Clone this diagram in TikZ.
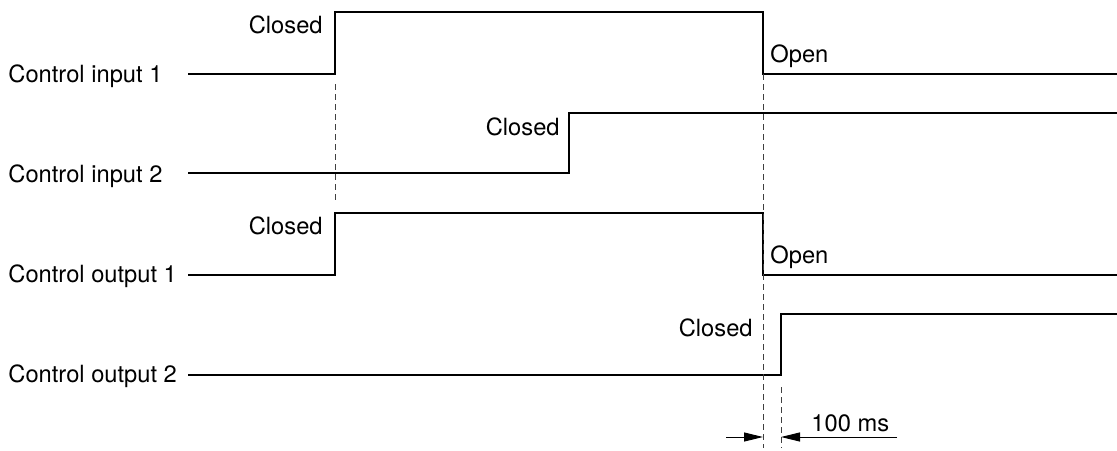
\documentclass[tikz,border=0pt]{standalone}
\usepackage{fontspec}
\setmainfont{TeX Gyre Heros}
\usetikzlibrary{arrows.meta}
\begin{document}
\begin{tikzpicture}[x=0.5pt,y=-0.5pt]
\tikzset{wave/.style={line width=1.2pt,line join=miter},
  guide/.style={gray!50!black,line width=0.5pt,dash pattern=on 3pt off 2pt},
  txt/.style={font=\fontsize{11.85}{14}\selectfont,inner sep=0pt},
  dimtip/.style={-{Triangle[length=9.5pt,width=4.5pt]},line width=0.5pt}}
\pgfmathsetmacro{\xs}{188}
\pgfmathsetmacro{\xe}{1117}
\pgfmathsetmacro{\ton}{335}
\pgfmathsetmacro{\toff}{763}
\pgfmathsetmacro{\tin}{569}
\pgfmathsetmacro{\tout}{781}
\useasboundingbox (0,0) rectangle (1117,450);
\foreach \t/\y [count=\i] in {input 1/82,input 2/182,output 1/282,output 2/382}
{
    \node[txt,anchor=base west] (sig\i) at (8,\y) {Control \t};
}
\draw[wave] (\xs,74) -- (\ton,74) -- (\ton,12) -- (\toff,12) -- (\toff,74) -- (\xe,74);
\draw[wave] (\xs,173) -- (\tin,173) -- (\tin,113) -- (\xe,113);
\draw[wave] (\xs,275) -- (\ton,275) -- (\ton,213) -- (\toff,213) -- (\toff,275) -- (\xe,275);
\draw[wave] (\xs,375) -- (\tout,375) -- (\tout,314) -- (\xe,314);
\node[txt,anchor=base east] (cl1) at (323,33) {Closed};
\node[txt,anchor=base east] (cl2) at (560,135) {Closed};
\node[txt,anchor=base east] (cl3) at (323,234) {Closed};
\node[txt,anchor=base east] (cl4) at (753,336) {Closed};
\node[txt,anchor=base west] (op1) at (770,62) {Open};
\node[txt,anchor=base west] (op3) at (770,263) {Open};
\draw[guide] (\ton,84) -- (\ton,202);
\draw[guide] (\toff,74) -- (\toff,448);
\draw[guide] (\tout,387) -- (\tout,448);
\coordinate (dl) at (726,437);
\coordinate (da) at (\toff,437);
\coordinate (db) at (\tout,437);
\coordinate (dr) at (897,437);
\draw[dimtip] (dl) -- (da);
\draw[dimtip] (dr) -- (db);
\node[txt,anchor=base west] (dt) at (811,431) {100 ms};
\end{tikzpicture}
\end{document}
